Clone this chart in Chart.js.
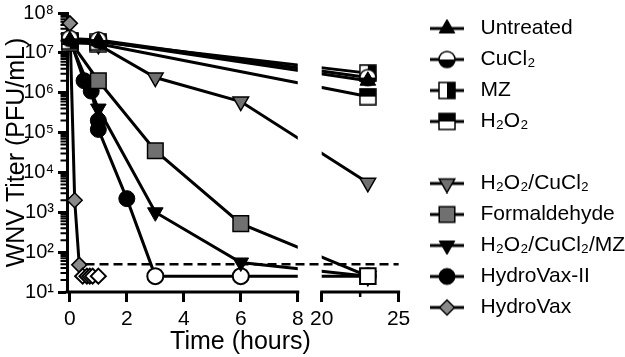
<!DOCTYPE html>
<html>
<head>
<meta charset="utf-8">
<script src="https://cdn.jsdelivr.net/npm/chart.js@4.4.1/dist/chart.umd.min.js"></script>
<style>
  html, body { margin: 0; padding: 0; background: #fff; }
</style>
</head>
<body>
<canvas id="chart" width="625" height="357"></canvas>
<script>
// ---- data (hours, titer in PFU/mL) ----
const untreatedHours = [0, 1, 23];
const untreatedTiter = [2.1e7, 2.0e7, 2.0e6];
const cucl2Hours = [0, 1, 23];
const cucl2Titer = [2.3e7, 2.1e7, 2.4e6];
const mzHours = [0, 1, 23];
const mzTiter = [2.0e7, 1.9e7, 3.1e6];
const h2o2Hours = [0, 1, 23];
const h2o2Titer = [1.8e7, 1.7e7, 8.0e5];
const h2o2CuHours = [0, 1, 3, 6, 23];
const h2o2CuTiter = [2.2e7, 1.6e7, 2.4e6, 6.0e5, 5.5e3];
const formalHours = [0, 1, 3, 6, 23];
const formalTiter = [2.0e7, 2.0e6, 3.5e4, 520, 25];
const h2o2CuMzHours = [0, 1, 3, 6, 23];
const h2o2CuMzTiter = [2.0e7, 4.0e5, 1.0e3, 55, 25];
const hydroVax2Hours = [0, 0.5, 0.75, 1, 1, 2, 3, 6, 23];
const hydroVax2Titer = [2.3e7, 2.0e6, 1.1e6, 2.0e5, 1.2e5, 2.2e3, 25, 25, 25];
const hydroVaxHours = [0, 0.17, 0.33, 0.45, 0.6, 0.7, 0.8, 1.0];
const hydroVaxTiter = [5.5e7, 2.0e3, 48, 25, 25, 25, 25, 25];

const undetectable = 25;          // value plotted for samples below detection
const detectionLimit = 50;
const limitHours = [0.55, 25];

const xTickValues = [0, 2, 4, 6, 8, 20, 25];
const xMinorTicks = [22.5];
const yDecades = [1e1, 1e2, 1e3, 1e4, 1e5, 1e6, 1e7, 1e8];

// ---- broken x axis: 0-8 h, then 20-25 h squeezed ----
const BREAK_FROM = 8, BREAK_TO = 20, GAP = 0.84, SQUEEZE = 0.54;
function squeeze(t) {
  if (t <= BREAK_FROM) return t;
  if (t >= BREAK_TO) return BREAK_FROM + GAP + (t - BREAK_TO) * SQUEEZE;
  return BREAK_FROM + GAP * (t - BREAK_FROM) / (BREAK_TO - BREAK_FROM);
}
class BrokenLinearScale extends Chart.LinearScale {
  getPixelForValue(v) {
    if (v === null || isNaN(v)) return NaN;
    const a = squeeze(this.min), b = squeeze(this.max);
    return this.getPixelForDecimal((squeeze(v) - a) / (b - a));
  }
}
BrokenLinearScale.id = 'brokenLinear';
Chart.register(BrokenLinearScale);

// ---- half filled markers ----
function halfCircle() {
  const c = document.createElement('canvas');
  c.width = c.height = 20;
  const g = c.getContext('2d');
  g.fillStyle = '#fff';
  g.beginPath(); g.arc(10, 10, 8, 0, 2 * Math.PI); g.fill();
  g.fillStyle = '#000';
  g.beginPath(); g.arc(10, 10, 8, 0, Math.PI); g.closePath(); g.fill();
  g.strokeStyle = '#000'; g.lineWidth = 1.5;
  g.beginPath(); g.arc(10, 10, 8, 0, 2 * Math.PI); g.stroke();
  return c;
}
function halfSquare(blackPart) {
  const c = document.createElement('canvas');
  c.width = c.height = 18;
  const g = c.getContext('2d');
  g.fillStyle = '#fff'; g.fillRect(1, 1, 16, 16);
  g.fillStyle = '#000';
  if (blackPart === 'right') g.fillRect(9, 1, 8, 16);
  else g.fillRect(1, 1, 16, 8);
  g.strokeStyle = '#000'; g.lineWidth = 1.5;
  g.strokeRect(1, 1, 16, 16);
  return c;
}

const series = [
  { label: 'Untreated', hours: untreatedHours, titer: untreatedTiter, marker: 'triangle', radius: 9, fill: '#000', edge: 1 },
  { label: 'CuCl₂', hours: cucl2Hours, titer: cucl2Titer, marker: halfCircle(), radius: 8, fill: '#000', edge: 1 },
  { label: 'MZ', hours: mzHours, titer: mzTiter, marker: halfSquare('right'), radius: 8, fill: '#000', edge: 1 },
  { label: 'H₂O₂', hours: h2o2Hours, titer: h2o2Titer, marker: halfSquare('top'), radius: 8, fill: '#000', edge: 1 },
  { label: 'H₂O₂/CuCl₂', hours: h2o2CuHours, titer: h2o2CuTiter, marker: 'triangle', rotation: 180, radius: 9, fill: '#707070', edge: 1.5 },
  { label: 'Formaldehyde', hours: formalHours, titer: formalTiter, marker: 'rect', radius: 11, fill: '#707070', edge: 1.5 },
  { label: 'H₂O₂/CuCl₂/MZ', hours: h2o2CuMzHours, titer: h2o2CuMzTiter, marker: 'triangle', rotation: 180, radius: 9, fill: '#000', edge: 1 },
  { label: 'HydroVax-II', hours: hydroVax2Hours, titer: hydroVax2Titer, marker: 'circle', radius: 8, fill: '#000', edge: 1 },
  { label: 'HydroVax', hours: hydroVaxHours, titer: hydroVaxTiter, marker: 'rectRot', radius: 7.5, fill: '#8a8a8a', edge: 1.5 }
];

const isFloor = c => c.raw && c.raw.y === undetectable;

const datasets = series.map(s => ({
  label: s.label,
  data: s.hours.map((h, i) => ({ x: h, y: s.titer[i] })),
  borderColor: '#000',
  borderWidth: 3,
  tension: 0,
  clip: false,
  pointStyle: s.marker,
  pointRadius: s.radius,
  pointHoverRadius: s.radius,
  pointRotation: s.rotation || 0,
  pointBorderColor: '#000',
  pointBorderWidth: c => isFloor(c) ? 2 : s.edge,
  pointBackgroundColor: c => isFloor(c) ? '#fff' : s.fill
}));

datasets.push({
  label: 'limit',
  isLimit: true,
  data: limitHours.map(h => ({ x: h, y: detectionLimit })),
  borderColor: '#000',
  borderWidth: 2.5,
  borderDash: [9, 5],
  pointRadius: 0,
  clip: false,
  order: -1
});

// legend icons: line with marker
function legendIcon(s) {
  const c = document.createElement('canvas');
  c.width = 34; c.height = 20;
  const g = c.getContext('2d');
  g.strokeStyle = '#000'; g.lineWidth = 3;
  g.beginPath(); g.moveTo(0, 10); g.lineTo(34, 10); g.stroke();
  g.fillStyle = s.fill; g.lineWidth = s.edge;
  Chart.helpers.drawPoint(g, { pointStyle: s.marker, radius: s.radius, rotation: s.rotation || 0, borderWidth: s.edge }, 17, 10);
  return c;
}
const blankIcon = document.createElement('canvas');
blankIcon.width = blankIcon.height = 1;

const sup = { 0: '⁰', 1: '¹', 2: '²', 3: '³', 4: '⁴', 5: '⁵', 6: '⁶', 7: '⁷', 8: '⁸', 9: '⁹' };

const brokenAxis = {
  id: 'brokenAxis',
  beforeDatasetsDraw(chart) {
    const { ctx, chartArea, scales: { x, y } } = chart;
    const yb = chartArea.bottom;
    ctx.save();
    ctx.strokeStyle = '#000';
    ctx.lineWidth = 3;
    ctx.beginPath();
    ctx.moveTo(chartArea.left - 1.5, yb);
    ctx.lineTo(x.getPixelForValue(BREAK_FROM) + 1.5, yb);
    ctx.moveTo(x.getPixelForValue(BREAK_TO) - 1.5, yb);
    ctx.lineTo(x.getPixelForValue(25) + 1.5, yb);
    ctx.stroke();
    ctx.lineWidth = 2.5;
    ctx.beginPath();
    xMinorTicks.forEach(v => {
      const px = x.getPixelForValue(v);
      ctx.moveTo(px, yb); ctx.lineTo(px, yb + 5);
    });
    ctx.stroke();
    ctx.lineWidth = 2;
    ctx.beginPath();
    yDecades.slice(0, -1).forEach(d => {
      for (let m = 2; m <= 9; m++) {
        const py = y.getPixelForValue(m * d);
        ctx.moveTo(chartArea.left - 6.5, py); ctx.lineTo(chartArea.left, py);
      }
    });
    ctx.stroke();
    ctx.restore();
  },
  beforeDatasetDraw(chart, args) {
    if (chart.data.datasets[args.index].isLimit) return;
    const { ctx, width, height, scales: { x } } = chart;
    const a = x.getPixelForValue(BREAK_FROM), b = x.getPixelForValue(BREAK_TO);
    ctx.save();
    ctx.beginPath();
    ctx.rect(0, 0, a, height);
    ctx.rect(b, 0, width - b, height);
    ctx.clip();
  },
  afterDatasetDraw(chart, args) {
    if (chart.data.datasets[args.index].isLimit) return;
    chart.ctx.restore();
  }
};

Chart.defaults.font.family = '"Liberation Sans", Arial, Helvetica, sans-serif';
Chart.defaults.color = '#000';

new Chart(document.getElementById('chart'), {
  type: 'line',
  data: { datasets },
  plugins: [brokenAxis],
  options: {
    responsive: false,
    animation: false,
    events: [],
    layout: { padding: { top: 8, left: 0, right: 0, bottom: 0 } },
    plugins: {
      tooltip: { enabled: false },
      legend: {
        position: 'right',
        align: 'start',
        maxWidth: 211,
        labels: {
          usePointStyle: true,
          pointStyleWidth: 46,
          padding: 10,
          color: '#000',
          font: { size: 21 },
          generateLabels: () => {
            const items = [];
            series.forEach((s, i) => {
              items.push({ text: s.label, pointStyle: legendIcon(s), datasetIndex: i, fillStyle: '#000', strokeStyle: '#000', lineWidth: 0, fontColor: '#000' });
              if (i === 3) items.push({ text: '', pointStyle: blankIcon, fillStyle: '#fff', strokeStyle: '#fff', lineWidth: 0 });
            });
            return items;
          }
        }
      }
    },
    scales: {
      x: {
        type: 'brokenLinear',
        min: -0.1,
        max: 26,
        bounds: 'data',
        afterBuildTicks: s => { s.ticks = xTickValues.map(v => ({ value: v })); },
        afterFit: s => { s.height = 65; s.paddingLeft = 0; s.paddingRight = 0; },
        ticks: { autoSkip: false, maxRotation: 0, font: { size: 21 }, color: '#000', padding: 5, callback: v => String(v) },
        grid: { drawOnChartArea: false, tickLength: 10, tickWidth: 3, tickColor: '#000' },
        border: { display: false },
        title: { display: true, text: 'Time (hours)', font: { size: 25 }, color: '#000', padding: 0 }
      },
      y: {
        type: 'logarithmic',
        min: 10,
        max: 1e8,
        afterBuildTicks: s => { s.ticks = yDecades.map(v => ({ value: v })); },
        afterFit: s => { s.width = 67; s.paddingTop = 12; s.paddingBottom = 0; },
        ticks: { autoSkip: false, font: { size: 20 }, color: '#000', padding: 4,
                 callback: v => '10' + sup[Math.round(Math.log10(v))] },
        grid: { drawOnChartArea: false, tickLength: 9, tickWidth: 3, tickColor: '#000' },
        border: { display: true, width: 3, color: '#000' },
        title: { display: true, text: 'WNV Titer (PFU/mL)', font: { size: 25 }, color: '#000', padding: { top: 2, bottom: 0 } }
      }
    }
  }
});
</script>
</body>
</html>
